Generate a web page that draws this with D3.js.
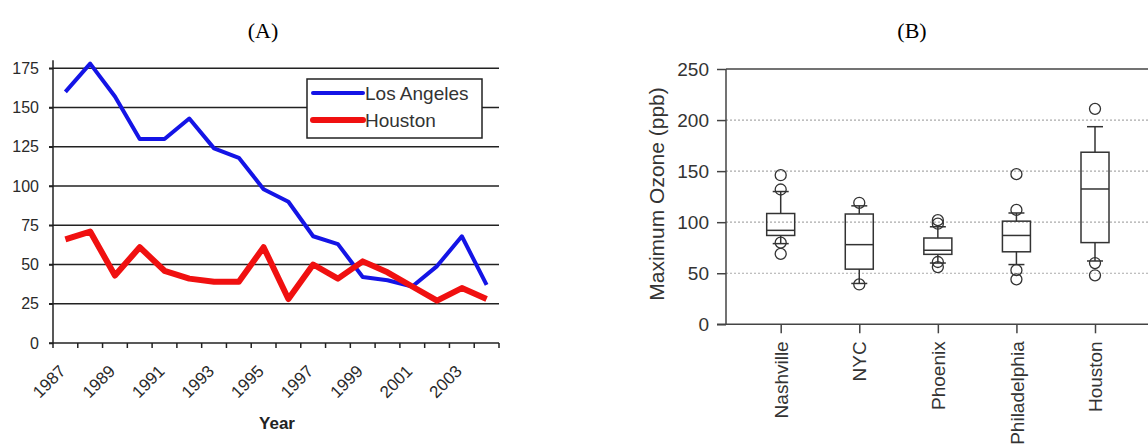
<!DOCTYPE html>
<html>
<head>
<meta charset="utf-8">
<script src="https://cdn.jsdelivr.net/npm/d3@7"></script>
<style>
  body { margin: 0; background: #fff; }
  svg { display: block; font-family: Arial, "Liberation Sans", sans-serif; }
</style>
</head>
<body>
<div id="chart"></div>
<script>
// ---- panel A data: days over standard per year
var years = [1987, 1988, 1989, 1990, 1991, 1992, 1993, 1994, 1995, 1996, 1997, 1998, 1999, 2000, 2001, 2002, 2003, 2004];
var laValues = [160, 178, 157, 130, 130, 143, 124, 118, 98, 90, 68, 63, 42, 40, 36, 49, 68, 37];
var houstonValues = [66, 71, 43, 61, 46, 41, 39, 39, 61, 28, 50, 41, 52, 45, 36, 27, 35, 28];
var yTicksA = [0, 25, 50, 75, 100, 125, 150, 175];
var yearLabels = [1987, 1989, 1991, 1993, 1995, 1997, 1999, 2001, 2003];

// ---- panel B data: box plots of maximum ozone (ppb)
var cities = ["Nashville", "NYC", "Phoenix", "Philadelphia", "Houston"];
var q1 = [87, 54, 68.5, 71, 80];
var medians = [92, 78, 72.5, 87, 132.5];
var q3 = [108.5, 108, 84.5, 101, 168.5];
var whiskerLow = [79, 40, 60, 58.5, 62];
var whiskerHigh = [130, 116, 95.5, 109, 193.5];
var outliers = [[146, 132, 80, 69], [119, 39], [102, 98.5, 61, 56], [147, 112, 53, 44], [211, 60, 48]];
var yTicksB = [0, 50, 100, 150, 200, 250];

var width = 1148, height = 444;
var svg = d3.select("#chart").append("svg").attr("width", width).attr("height", height);

// titles
svg.append("text").attr("x", 263).attr("y", 38).attr("text-anchor", "middle")
  .style("font-family", "'Liberation Serif', 'DejaVu Serif', serif").style("font-size", "22px")
  .text("(A)");
svg.append("text").attr("x", 912).attr("y", 38).attr("text-anchor", "middle")
  .style("font-family", "'Liberation Serif', 'DejaVu Serif', serif").style("font-size", "22px")
  .text("(B)");

// ================= panel A =================
var a = {left: 53, right: 499, top: 68.3, bottom: 343};
var xA = d3.scaleBand().domain(years).range([a.left, a.right]).paddingInner(0).paddingOuter(0);
var yA = d3.scaleLinear().domain([0, 175]).range([a.bottom, a.top]);

var gA = svg.append("g");

// horizontal grid lines (solid, dark)
gA.append("g").selectAll("line")
  .data(yTicksA.filter(function(d) { return d > 0; }))
  .enter().append("line")
  .attr("x1", a.left - 4).attr("x2", a.right)
  .attr("y1", function(d) { return yA(d); }).attr("y2", function(d) { return yA(d); })
  .attr("stroke", "#222").attr("stroke-width", 1.5);

// y axis
var yAxisA = d3.axisLeft(yA).tickValues(yTicksA).tickSize(4).tickPadding(10);
gA.append("g").attr("transform", "translate(" + a.left + ",0)").call(yAxisA)
  .call(function(g) {
    g.select(".domain").attr("stroke", "#222").attr("stroke-width", 1.5)
      .attr("d", "M-4," + yA(0) + "H0V" + (a.top - 8));
    g.selectAll(".tick line").attr("stroke", "#222").attr("stroke-width", 1.5);
    g.selectAll(".tick text").style("font-size", "16px").attr("fill", "#2a2a2a")
      .style("font-family", "Arial, 'Liberation Sans', sans-serif");
  });

// x axis: ticks on category boundaries
gA.append("line").attr("x1", a.left).attr("x2", a.right)
  .attr("y1", yA(0)).attr("y2", yA(0)).attr("stroke", "#222").attr("stroke-width", 1.5);
var boundaries = years.map(function(d) { return xA(d); }).concat([a.right]);
gA.append("g").selectAll("line").data(boundaries).enter().append("line")
  .attr("x1", function(d) { return d; }).attr("x2", function(d) { return d; })
  .attr("y1", yA(0)).attr("y2", yA(0) + 5)
  .attr("stroke", "#222").attr("stroke-width", 1.5);

gA.append("g").selectAll("text").data(yearLabels).enter().append("text")
  .attr("transform", function(d) {
    var cx = xA(d) + xA.bandwidth() / 2;
    return "translate(" + (cx - 3) + "," + (yA(0) + 25) + ") rotate(-45)";
  })
  .attr("text-anchor", "end").attr("dy", "0.35em")
  .style("font-size", "17px").attr("fill", "#2a2a2a")
  .text(function(d) { return d; });

gA.append("text").attr("x", 277).attr("y", 429).attr("text-anchor", "middle")
  .style("font-size", "17px").style("font-weight", "bold").attr("fill", "#222")
  .text("Year");

// lines
var lineA = function(vals) {
  return d3.line()
    .x(function(d, i) { return xA(years[i]) + xA.bandwidth() / 2; })
    .y(function(d) { return yA(d); })(vals);
};
gA.append("path").attr("d", lineA(laValues)).attr("fill", "none")
  .attr("stroke", "#1414e6").attr("stroke-width", 4).attr("stroke-linejoin", "round");
gA.append("path").attr("d", lineA(houstonValues)).attr("fill", "none")
  .attr("stroke", "#f01010").attr("stroke-width", 6).attr("stroke-linejoin", "round");

// legend
var leg = gA.append("g").attr("transform", "translate(307,79)");
leg.append("rect").attr("width", 175).attr("height", 59)
  .attr("fill", "#fff").attr("stroke", "#222").attr("stroke-width", 1.5);
var legItems = [{name: "Los Angeles", color: "#1414e6", w: 4}, {name: "Houston", color: "#f01010", w: 6}];
legItems.forEach(function(it, i) {
  var ly = 14 + i * 27;
  leg.append("line").attr("x1", 6).attr("x2", 56).attr("y1", ly).attr("y2", ly)
    .attr("stroke", it.color).attr("stroke-width", it.w).attr("stroke-linecap", "round");
  leg.append("text").attr("x", 58).attr("y", ly).attr("dy", "0.35em")
    .style("font-size", "19px").attr("fill", "#333").text(it.name);
});

// ================= panel B =================
var b = {left: 726, right: width, top: 69, bottom: 324.3};
var yB = d3.scaleLinear().domain([0, 250]).range([b.bottom, b.top]);
var xB = d3.scalePoint().domain(cities).range([780.7, 1095]);
var gB = svg.append("g");

// dotted grid
gB.append("g").selectAll("line")
  .data(yTicksB.filter(function(d) { return d > 0 && d < 250; }))
  .enter().append("line")
  .attr("x1", b.left).attr("x2", b.right)
  .attr("y1", function(d) { return yB(d); }).attr("y2", function(d) { return yB(d); })
  .attr("stroke", "#aaa").attr("stroke-width", 1.2).attr("stroke-dasharray", "2,2");

// frame
gB.append("line").attr("x1", b.left).attr("x2", b.right).attr("y1", b.top).attr("y2", b.top)
  .attr("stroke", "#444").attr("stroke-width", 1.5);
gB.append("line").attr("x1", b.left - 9).attr("x2", b.right).attr("y1", b.bottom).attr("y2", b.bottom)
  .attr("stroke", "#444").attr("stroke-width", 1.5);

var yAxisB = d3.axisLeft(yB).tickValues(yTicksB).tickSize(9).tickPadding(8);
gB.append("g").attr("transform", "translate(" + b.left + ",0)").call(yAxisB)
  .call(function(g) {
    g.select(".domain").attr("stroke", "#444").attr("stroke-width", 1.5)
      .attr("d", "M0," + b.bottom + "V" + b.top);
    g.selectAll(".tick line").attr("stroke", "#444").attr("stroke-width", 1.5);
    g.selectAll(".tick text").style("font-size", "19px").attr("fill", "#333")
      .style("font-family", "Arial, 'Liberation Sans', sans-serif");
  });

var xAxisB = d3.axisBottom(xB).tickSize(9).tickPadding(8);
gB.append("g").attr("transform", "translate(0," + b.bottom + ")").call(xAxisB)
  .call(function(g) {
    g.select(".domain").remove();
    g.selectAll(".tick line").attr("stroke", "#444").attr("stroke-width", 1.5);
    g.selectAll(".tick text").style("font-size", "19px").attr("fill", "#333")
      .style("font-family", "Arial, 'Liberation Sans', sans-serif")
      .attr("text-anchor", "end").attr("transform", "rotate(-90)")
      .attr("x", -17).attr("y", 0).attr("dy", "0.35em");
  });

svg.append("text")
  .attr("transform", "translate(664,194) rotate(-90)")
  .attr("text-anchor", "middle")
  .style("font-size", "21px").attr("fill", "#333")
  .text("Maximum Ozone (ppb)");

// boxes
var boxW = 28, capW = 16;
var boxes = gB.append("g").selectAll("g").data(cities).enter().append("g")
  .attr("transform", function(d) { return "translate(" + xB(d) + ",0)"; });

boxes.append("line").attr("x1", 0).attr("x2", 0)
  .attr("y1", function(d, i) { return yB(whiskerHigh[i]); })
  .attr("y2", function(d, i) { return yB(q3[i]); })
  .attr("stroke", "#333").attr("stroke-width", 1.5);
boxes.append("line").attr("x1", 0).attr("x2", 0)
  .attr("y1", function(d, i) { return yB(q1[i]); })
  .attr("y2", function(d, i) { return yB(whiskerLow[i]); })
  .attr("stroke", "#333").attr("stroke-width", 1.5);
boxes.append("line").attr("x1", -capW / 2).attr("x2", capW / 2)
  .attr("y1", function(d, i) { return yB(whiskerHigh[i]); })
  .attr("y2", function(d, i) { return yB(whiskerHigh[i]); })
  .attr("stroke", "#333").attr("stroke-width", 1.5);
boxes.append("line").attr("x1", -capW / 2).attr("x2", capW / 2)
  .attr("y1", function(d, i) { return yB(whiskerLow[i]); })
  .attr("y2", function(d, i) { return yB(whiskerLow[i]); })
  .attr("stroke", "#333").attr("stroke-width", 1.5);
boxes.append("rect").attr("x", -boxW / 2).attr("width", boxW)
  .attr("y", function(d, i) { return yB(q3[i]); })
  .attr("height", function(d, i) { return yB(q1[i]) - yB(q3[i]); })
  .attr("fill", "none").attr("stroke", "#333").attr("stroke-width", 1.5);
boxes.append("line").attr("x1", -boxW / 2).attr("x2", boxW / 2)
  .attr("y1", function(d, i) { return yB(medians[i]); })
  .attr("y2", function(d, i) { return yB(medians[i]); })
  .attr("stroke", "#333").attr("stroke-width", 1.5);

boxes.each(function(d, i) {
  d3.select(this).selectAll("circle").data(outliers[i]).enter().append("circle")
    .attr("cx", 0).attr("cy", function(v) { return yB(v); }).attr("r", 5.5)
    .attr("fill", "none").attr("stroke", "#333").attr("stroke-width", 1.3);
});
</script>
</body>
</html>
